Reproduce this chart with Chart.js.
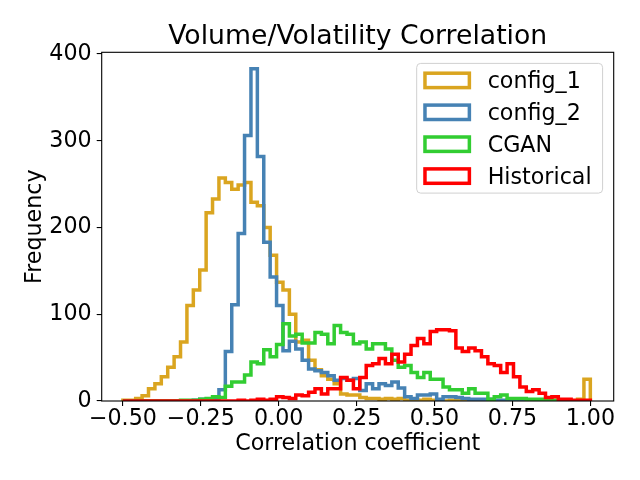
<!DOCTYPE html>
<html>
<head>
<meta charset="utf-8">
<script src="https://cdn.jsdelivr.net/npm/chart.js@4.4.0/dist/chart.umd.min.js"></script>
<style>
    html, body { margin: 0; padding: 0; background: #fff; }
    canvas { display: block; }
</style>
</head>
<body>
<canvas id="hist" width="640" height="480"></canvas>
<script>
// histogram bins: 73 equal bins from -0.5 to 1.0
const binStart = -0.5;
const binEnd = 1.0;
const binCount = 73;

const chartTitle = "Volume/Volatility Correlation";
const xLabel = "Correlation coefficient";
const yLabel = "Frequency";
const xTicks = [-0.5, -0.25, 0, 0.25, 0.5, 0.75, 1.0];
const yTicks = [0, 100, 200, 300, 400];

const config1Counts = [
    1, 1, 3, 6, 14, 20, 28, 39, 51, 68,
    110, 128, 151, 217, 233, 257, 252, 244, 249, 252,
    229, 225, 200, 168, 137, 128, 100, 68, 70, 47,
    36, 29, 25, 20, 8, 7, 7, 4, 3, 3,
    2, 3, 2, 3, 1, 2, 1, 2, 1, 1,
    0, 1, 1, 0, 1, 0, 1, 0, 0, 0,
    1, 0, 0, 0, 0, 0, 0, 0, 0, 0,
    0, 2, 25
];
const config2Counts = [
    0, 0, 0, 0, 0, 0, 0, 0, 0, 0,
    0, 1, 2, 1, 2, 13, 57, 111, 193, 306,
    383, 282, 183, 143, 110, 58, 69, 60, 47, 37,
    35, 33, 29, 24, 26, 24, 26, 12, 20, 14,
    20, 18, 22, 15, 5, 3, 7, 7, 8, 2,
    5, 5, 4, 3, 2, 2, 2, 2, 1, 1,
    1, 0, 0, 0, 0, 0, 0, 0, 0, 0,
    0, 0, 0
];
const cganCounts = [
    0, 0, 0, 0, 0, 0, 0, 0, 0, 1,
    1, 1, 2, 3, 5, 4, 17, 22, 22, 30,
    45, 43, 59, 51, 65, 89, 75, 77, 67, 67,
    79, 77, 66, 87, 79, 77, 66, 68, 60, 66,
    66, 60, 47, 39, 41, 33, 27, 33, 25, 25,
    16, 13, 13, 9, 14, 9, 9, 2, 5, 7,
    3, 3, 3, 2, 2, 2, 1, 1, 1, 0,
    0, 0, 0
];
const historicalCounts = [
    0, 0, 0, 0, 0, 0, 0, 0, 0, 0,
    0, 0, 0, 0, 0, 0, 0, 0, 1, 0,
    1, 2, 1, 2, 5, 4, 3, 7, 6, 10,
    14, 8, 14, 14, 27, 24, 14, 27, 41, 43,
    49, 43, 54, 45, 54, 64, 72, 66, 80, 82,
    82, 81, 61, 57, 61, 58, 51, 43, 41, 33,
    43, 28, 16, 11, 13, 9, 4, 5, 2, 2,
    1, 1, 1
];

const FONT = "'DejaVu Sans', 'Liberation Sans', sans-serif";

// outline of a step histogram: point i sits on the left edge of bin i,
// the closing point at the right edge brings the outline back to zero
function stepPoints(counts) {
    const width = (binEnd - binStart) / binCount;
    const points = [{x: binStart, y: 0}];
    counts.forEach((count, i) => points.push({x: binStart + (i + 1) * width, y: count}));
    points.push({x: binEnd, y: 0});
    return points;
}

function histDataset(label, counts, color, order) {
    return {
        label: label,
        data: stepPoints(counts),
        borderColor: color,
        backgroundColor: "transparent",
        borderWidth: 3.5,
        borderJoinStyle: "miter",
        borderCapStyle: "butt",
        stepped: "after",
        pointRadius: 0,
        fill: false,
        clip: 0,
        order: order,
    };
}

function tickText(value) {
    return (value < 0 ? "\u2212" : "") + Math.abs(value).toFixed(2);
}

const framePlugin = {
    id: "frame",
    afterDraw(chart) {
        const {ctx, chartArea} = chart;
        ctx.save();
        // four spines
        ctx.strokeStyle = "#000";
        ctx.lineWidth = 1.1;
        ctx.strokeRect(chartArea.left, chartArea.top,
            chartArea.right - chartArea.left, chartArea.bottom - chartArea.top);

        // title above the axes
        ctx.fillStyle = "#000";
        ctx.font = "26.7px " + FONT;
        ctx.textAlign = "center";
        ctx.textBaseline = "alphabetic";
        ctx.fillText(chartTitle, (chartArea.left + chartArea.right) / 2, chartArea.top - 8);

        // legend, upper right inside the axes
        const fontSize = 22.2;
        ctx.font = fontSize + "px " + FONT;
        const datasets = chart.data.datasets;
        const textWidth = Math.max(...datasets.map(d => ctx.measureText(d.label).width));
        const boxW = 71 + textWidth + 11;
        const rowH = 31.9;
        const boxH = 2 * 17 + (datasets.length - 1) * rowH;
        const boxX = chartArea.right - 11.1 - boxW;
        const boxY = chartArea.top + 11.1;

        ctx.beginPath();
        ctx.roundRect(boxX, boxY, boxW, boxH, 4);
        ctx.fillStyle = "rgba(255,255,255,0.8)";
        ctx.fill();
        ctx.strokeStyle = "#d0d0d0";
        ctx.lineWidth = 1;
        ctx.stroke();

        datasets.forEach((d, i) => {
            const cy = boxY + 17 + i * rowH;
            ctx.strokeStyle = d.borderColor;
            ctx.lineWidth = d.borderWidth;
            ctx.lineJoin = "miter";
            ctx.strokeRect(boxX + 8.3, cy - 7.2, 44.4, 14.4);
            ctx.fillStyle = "#000";
            ctx.textAlign = "left";
            ctx.textBaseline = "alphabetic";
            ctx.fillText(d.label, boxX + 71, cy + 8);
        });
        ctx.restore();
    }
};

const axisFont = {family: FONT, size: 22.2};

new Chart(document.getElementById("hist"), {
    type: "line",
    data: {
        datasets: [
            histDataset("config_1", config1Counts, "#DAA520", 4),
            histDataset("config_2", config2Counts, "#4682B4", 3),
            histDataset("CGAN", cganCounts, "#32CD32", 2),
            histDataset("Historical", historicalCounts, "#FF0000", 1),
        ]
    },
    options: {
        responsive: false,
        animation: false,
        devicePixelRatio: 1,
        layout: {
            padding: {top: 52.3, right: 26.3, left: 0, bottom: 0}
        },
        scales: {
            x: {
                type: "linear",
                min: -0.568,
                max: 1.075,
                afterBuildTicks: scale => { scale.ticks = xTicks.map(v => ({value: v})); },
                afterFit: scale => { scale.height = 79; },
                border: {display: false},
                grid: {
                    drawOnChartArea: false,
                    drawTicks: true,
                    tickLength: 5,
                    color: "#000",
                    lineWidth: 1.1,
                },
                ticks: {
                    color: "#000",
                    font: axisFont,
                    padding: 0,
                    maxRotation: 0,
                    autoSkip: false,
                    callback: value => tickText(value),
                },
                title: {
                    display: true,
                    text: xLabel,
                    color: "#000",
                    font: axisFont,
                    padding: {top: 0, bottom: 22.4},
                }
            },
            y: {
                type: "linear",
                min: 0,
                max: 402,
                afterBuildTicks: scale => { scale.ticks = yTicks.map(v => ({value: v})); },
                afterFit: scale => { scale.width = 101.7; },
                border: {display: false},
                grid: {
                    drawOnChartArea: false,
                    drawTicks: true,
                    tickLength: 5,
                    color: "#000",
                    lineWidth: 1.1,
                },
                ticks: {
                    color: "#000",
                    font: axisFont,
                    padding: 5,
                    autoSkip: false,
                    callback: value => String(value),
                },
                title: {
                    display: true,
                    text: yLabel,
                    color: "#000",
                    font: axisFont,
                    padding: {top: 22, bottom: 0},
                }
            }
        },
        plugins: {
            legend: {display: false},
            tooltip: {enabled: false},
        }
    },
    plugins: [framePlugin]
});
</script>
</body>
</html>
